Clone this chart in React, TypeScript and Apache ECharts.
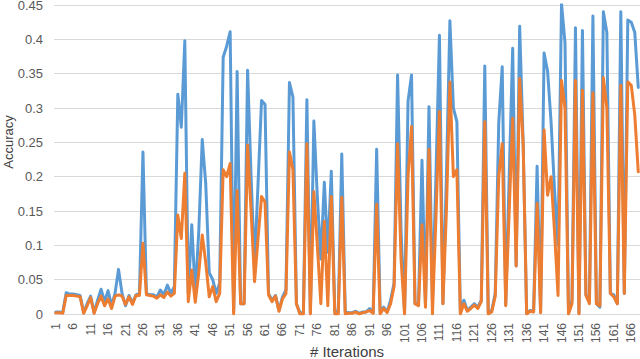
import React, { useEffect, useRef } from "react";
import * as echarts from "echarts";

const iterationCount = 168;
const iterations: string[] = Array.from({ length: iterationCount }, (_, i) => String(i + 1));

const accuracyTop: number[] = [
  0.003, 0.003, 0.002, 0.031, 0.029, 0.029, 0.028, 0.027, 0.002, 0.015,
  0.026, 0.002, 0.02, 0.036, 0.018, 0.034, 0.012, 0.03, 0.065, 0.03,
  0.012, 0.027, 0.016, 0.028, 0.03, 0.236, 0.03, 0.028, 0.028, 0.025,
  0.035, 0.028, 0.042, 0.03, 0.04, 0.32, 0.272, 0.398, 0.03, 0.13,
  0.03, 0.12, 0.254, 0.19, 0.06, 0.05, 0.03, 0.045, 0.374, 0.39,
  0.411, 0.003, 0.353, 0.015, 0.015, 0.355, 0.2, 0.07, 0.19, 0.311,
  0.305, 0.03, 0.02, 0.027, 0.005, 0.025, 0.035, 0.337, 0.316, 0.015,
  0.002, 0.002, 0.312, 0.002, 0.281, 0.17, 0.08, 0.192, 0.09, 0.208,
  0.004, 0.004, 0.233, 0.003, 0.002, 0.002, 0.004, 0.001, 0.003, 0.003,
  0.008, 0.002, 0.24, 0.003, 0.01, 0.003, 0.02, 0.045, 0.348, 0.12,
  0.002, 0.31, 0.348, 0.015, 0.015, 0.224, 0.012, 0.302, 0.02, 0.2,
  0.406, 0.015, 0.2, 0.427, 0.3, 0.28, 0.002, 0.02, 0.005, 0.01,
  0.015, 0.01, 0.02, 0.361, 0.002, 0.005, 0.03, 0.278, 0.36, 0.013,
  0.2, 0.387, 0.07, 0.419, 0.25, 0.002, 0.005, 0.004, 0.215, 0.003,
  0.38, 0.354, 0.28, 0.18, 0.1, 0.452, 0.395, 0.002, 0.02, 0.417,
  0.002, 0.413, 0.028, 0.02, 0.434, 0.015, 0.01, 0.44, 0.41, 0.03,
  0.028, 0.015, 0.44, 0.03, 0.428, 0.425, 0.41, 0.33,
];

const accuracyBottom: number[] = [
  0.002, 0.002, 0.001, 0.027, 0.027, 0.027, 0.026, 0.025, 0.001, 0.012,
  0.024, 0.001, 0.015, 0.026, 0.012, 0.022, 0.008, 0.026, 0.028, 0.026,
  0.014, 0.025, 0.014, 0.027, 0.027, 0.103, 0.028, 0.027, 0.026, 0.023,
  0.028, 0.024, 0.032, 0.026, 0.03, 0.144, 0.11, 0.205, 0.018, 0.064,
  0.017, 0.06, 0.115, 0.075, 0.025, 0.04, 0.018, 0.03, 0.21, 0.2,
  0.219, 0.0, 0.18, 0.015, 0.015, 0.246, 0.15, 0.047, 0.11, 0.171,
  0.163, 0.028, 0.018, 0.026, 0.004, 0.022, 0.03, 0.236, 0.21, 0.015,
  0.0, 0.0, 0.248, 0.0, 0.178, 0.1, 0.015, 0.135, 0.012, 0.171,
  0.0, 0.0, 0.17, 0.0, 0.001, 0.001, 0.003, 0.0, 0.002, 0.003,
  0.005, 0.001, 0.16, 0.0, 0.008, 0.002, 0.015, 0.04, 0.248, 0.08,
  0.0, 0.2, 0.273, 0.015, 0.012, 0.13, 0.01, 0.24, 0.0, 0.14,
  0.295, 0.015, 0.15, 0.338, 0.2, 0.21, 0.0, 0.015, 0.004, 0.008,
  0.013, 0.008, 0.018, 0.28, 0.0, 0.003, 0.026, 0.2, 0.248, 0.012,
  0.15, 0.285, 0.07, 0.343, 0.248, 0.0, 0.004, 0.003, 0.161, 0.002,
  0.268, 0.173, 0.2, 0.12, 0.027, 0.34, 0.3, 0.0, 0.015, 0.34,
  0.0, 0.326, 0.027, 0.015, 0.322, 0.015, 0.012, 0.344, 0.3, 0.03,
  0.025, 0.015, 0.333, 0.03, 0.338, 0.333, 0.29, 0.207,
];

const yMin = 0;
const yMax = 0.45;
const yStep = 0.05;

export default function App() {
  const ref = useRef<HTMLDivElement>(null);
  useEffect(() => {
    document.body.style.margin = "0";
    if (!ref.current) return;
    const chart = echarts.init(ref.current, undefined, { renderer: "svg" });
    const font = "Liberation Sans, Arial, sans-serif";
    chart.setOption({
      animation: false,
      backgroundColor: "#ffffff",
      grid: {
        left: 54,
        right: 0,
        top: 5,
        bottom: 45,
        containLabel: false,
        outerBoundsMode: "none",
      },
      graphic: [
        {
          type: "text",
          x: 8,
          y: 142,
          rotation: Math.PI / 2,
          style: {
            text: "Accuracy",
            fontFamily: font,
            fontSize: 13,
            fill: "#404040",
            align: "center",
            verticalAlign: "middle",
          },
        },
      ],
      xAxis: {
        type: "category",
        data: iterations,
        boundaryGap: true,
        name: "# Iterations",
        nameLocation: "middle",
        nameGap: 30,
        nameMoveOverlap: false,
        nameTextStyle: { fontFamily: font, fontSize: 15, lineHeight: 15, color: "#404040" },
        axisLine: { show: true, lineStyle: { color: "#D9D9D9", width: 1 } },
        axisTick: { show: false },
        axisLabel: {
          interval: 4,
          rotate: 90,
          margin: 9,
          fontFamily: font,
          fontSize: 12,
          color: "#595959",
        },
        splitLine: { show: false },
      },
      yAxis: {
        type: "value",
        min: yMin,
        max: yMax,
        interval: yStep,
        axisLine: { show: false },
        axisTick: { show: false },
        axisLabel: {
          margin: 11,
          fontFamily: font,
          fontSize: 13,
          lineHeight: 8,
          color: "#595959",
          formatter: (v: number) => String(Number(v.toFixed(2))),
        },
        splitLine: { show: true, lineStyle: { color: "#D9D9D9", width: 1 } },
      },
      series: [
        {
          name: "Top",
          type: "line",
          data: accuracyTop,
          symbol: "none",
          smooth: false,
          lineStyle: { color: "#5B9BD5", width: 3, join: "round", cap: "round" },
          itemStyle: { color: "#5B9BD5" },
          z: 2,
        },
        {
          name: "Bottom",
          type: "line",
          data: accuracyBottom,
          symbol: "none",
          smooth: false,
          lineStyle: { color: "#ED7D31", width: 3, join: "round", cap: "round" },
          itemStyle: { color: "#ED7D31" },
          z: 3,
        },
      ],
    });
    return () => chart.dispose();
  }, []);
  return (
    <div
      ref={ref}
      style={{ position: "absolute", left: 0, top: 0, width: 640, height: 359 }}
    />
  );
}
